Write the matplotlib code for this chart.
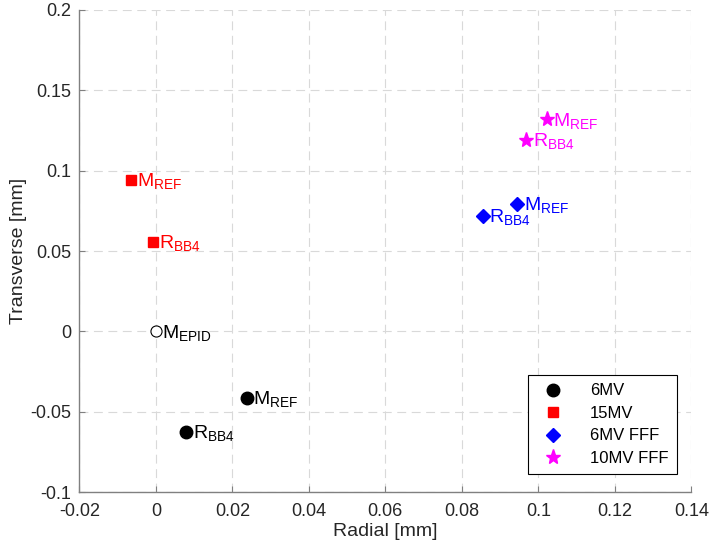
import matplotlib.pyplot as plt

# measured offsets (mm)
epid_x, epid_y = [0.0], [0.0]

mv6_x = [0.0238, 0.0080]
mv6_y = [-0.0412, -0.0625]
mv15_x = [-0.0066, -0.0007]
mv15_y = [0.0944, 0.0559]
fff6_x = [0.0945, 0.0856]
fff6_y = [0.0793, 0.0720]
fff10_x = [0.1023, 0.0969]
fff10_y = [0.1320, 0.1190]

point_names = [r'$\mathregular{M_{REF}}$', r'$\mathregular{R_{BB4}}$']
epid_name = r'$\mathregular{M_{EPID}}$'

series = [
    ('6MV', mv6_x, mv6_y, 'o', 'black', 9),
    ('15MV', mv15_x, mv15_y, 's', 'red', 7),
    ('6MV FFF', fff6_x, fff6_y, 'D', 'blue', 7),
    ('10MV FFF', fff10_x, fff10_y, '*', 'magenta', 11),
]

plt.rcParams['font.family'] = ['Liberation Sans', 'DejaVu Sans']
plt.rcParams['mathtext.fontset'] = 'custom'
plt.rcParams['mathtext.rm'] = 'Liberation Sans'

fig = plt.figure(figsize=(7.09, 5.53), dpi=100)
ax = fig.add_axes([0.112, 0.11, 0.863, 0.872])

ax.plot(epid_x, epid_y, 'o', markerfacecolor='white', markeredgecolor='black',
        markersize=8, markeredgewidth=0.8, linestyle='none')
ax.annotate(epid_name, (epid_x[0], epid_y[0]), xytext=(4.5, -4.5),
            textcoords='offset points', fontsize=14, color='black', va='baseline')

for name, xs, ys, mk, col, ms in series:
    ax.plot(xs, ys, mk, color=col, markersize=ms, linestyle='none', label=name)
    for px, py, lab in zip(xs, ys, point_names):
        ax.annotate(lab, (px, py), xytext=(4.5, -4.5), textcoords='offset points',
                    fontsize=14, color=col, va='baseline')

ax.set_xlim(-0.02, 0.14)
ax.set_ylim(-0.1, 0.2)
ax.set_xticks([-0.02, 0, 0.02, 0.04, 0.06, 0.08, 0.1, 0.12, 0.14])
ax.set_xticklabels(['-0.02', '0', '0.02', '0.04', '0.06', '0.08', '0.1', '0.12', '0.14'])
ax.set_yticks([-0.1, -0.05, 0, 0.05, 0.1, 0.15, 0.2])
ax.set_yticklabels(['-0.1', '-0.05', '0', '0.05', '0.1', '0.15', '0.2'])

ax.grid(True, linestyle=(0, (8, 5)), color='#d9d9d9', linewidth=0.8)
ax.set_axisbelow(True)
for s in ['top', 'right']:
    ax.spines[s].set_visible(False)
for s in ['left', 'bottom']:
    ax.spines[s].set_color('#808080')
    ax.spines[s].set_linewidth(1.0)
ax.tick_params(direction='in', length=4.5, color='#808080', labelsize=13,
               labelcolor='#262626')
ax.tick_params(axis='x', pad=8)
ax.tick_params(axis='y', pad=6)

ax.set_xlabel('Radial [mm]', fontsize=14, color='#262626', labelpad=2)
ax.set_ylabel('Transverse [mm]', fontsize=14, color='#262626', labelpad=2)

leg = ax.legend(loc='lower right', fontsize=12, frameon=True, fancybox=False,
                edgecolor='black', framealpha=1, borderpad=0.5, handletextpad=1.2,
                bbox_to_anchor=(0.99, 0.02), labelspacing=0.45)
leg.get_frame().set_linewidth(0.8)

fig.savefig('out.png', dpi=100)
